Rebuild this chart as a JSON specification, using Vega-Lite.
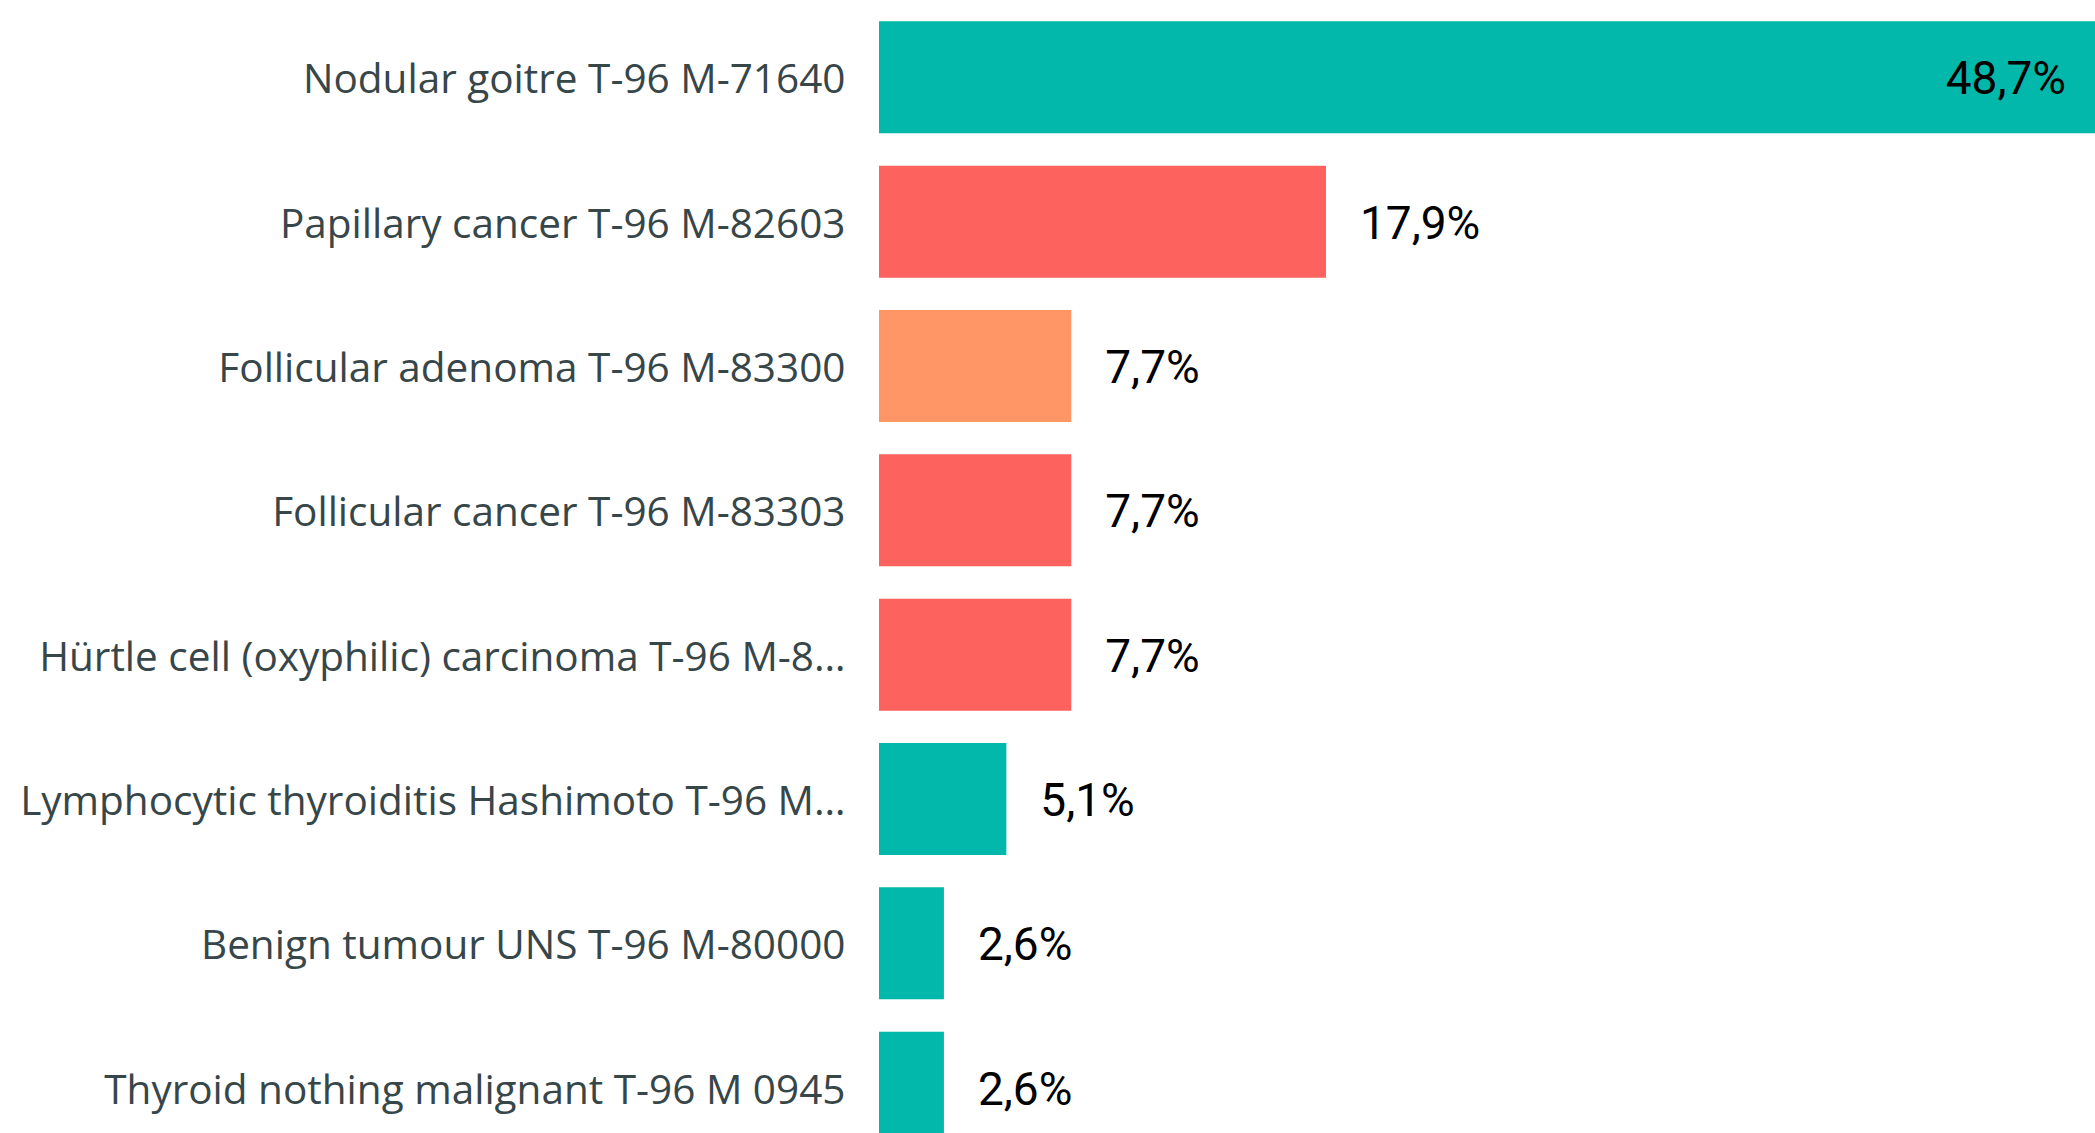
{
  "$schema": "https://vega.github.io/schema/vega-lite/v6.json",
  "width": 1216,
  "height": 1165,
  "autosize": {"type": "none"},
  "padding": {"left": 879, "top": 0, "right": 0, "bottom": 0},
  "background": "white",
  "config": {
    "view": {"stroke": null},
    "locale": {"number": {"decimal": ",", "thousands": ".", "grouping": [3], "currency": ["", " €"]}}
  },
  "data": {
    "values": [
      {"category": "Nodular goitre T-96 M-71640", "value": 0.487, "group": "benign"},
      {"category": "Papillary cancer T-96 M-82603", "value": 0.179, "group": "malignant"},
      {"category": "Follicular adenoma T-96 M-83300", "value": 0.077, "group": "adenoma"},
      {"category": "Follicular cancer T-96 M-83303", "value": 0.077, "group": "malignant"},
      {"category": "Hürtle cell (oxyphilic) carcinoma T-96 M-8…", "value": 0.077, "group": "malignant"},
      {"category": "Lymphocytic thyroiditis Hashimoto T-96 M…", "value": 0.051, "group": "benign"},
      {"category": "Benign tumour UNS T-96 M-80000", "value": 0.026, "group": "benign"},
      {"category": "Thyroid nothing malignant T-96 M 0945", "value": 0.026, "group": "benign"}
    ]
  },
  "encoding": {
    "y": {
      "field": "category",
      "type": "nominal",
      "sort": null,
      "scale": {"paddingInner": 0.224, "paddingOuter": 0.148},
      "axis": {
        "title": null,
        "domain": false,
        "ticks": false,
        "labelPadding": 34,
        "labelLimit": 900,
        "labelFont": "Open Sans",
        "labelFontSize": 40.5,
        "labelOffset": 4,
        "labelColor": "#374649"
      }
    },
    "x": {
      "field": "value",
      "type": "quantitative",
      "scale": {"domain": [0, 0.487], "nice": false, "zero": true},
      "axis": null
    }
  },
  "layer": [
    {
      "mark": {"type": "bar"},
      "encoding": {
        "color": {
          "field": "group",
          "type": "nominal",
          "scale": {"domain": ["benign", "malignant", "adenoma"], "range": ["#01B8AA", "#FD625E", "#FE9666"]},
          "legend": null
        }
      }
    },
    {
      "transform": [{"filter": "datum.value >= 0.4"}],
      "mark": {"type": "text", "align": "right", "baseline": "middle", "dx": -29, "dy": 3, "font": "Roboto", "fontWeight": "normal", "fontSize": 46, "color": "#000000"},
      "encoding": {"text": {"field": "value", "type": "quantitative", "format": ".1%"}}
    },
    {
      "transform": [{"filter": "datum.value < 0.4"}],
      "mark": {"type": "text", "align": "left", "baseline": "middle", "dx": 34, "dy": 3, "font": "Roboto", "fontWeight": "normal", "fontSize": 46, "color": "#000000"},
      "encoding": {"text": {"field": "value", "type": "quantitative", "format": ".1%"}}
    }
  ]
}
